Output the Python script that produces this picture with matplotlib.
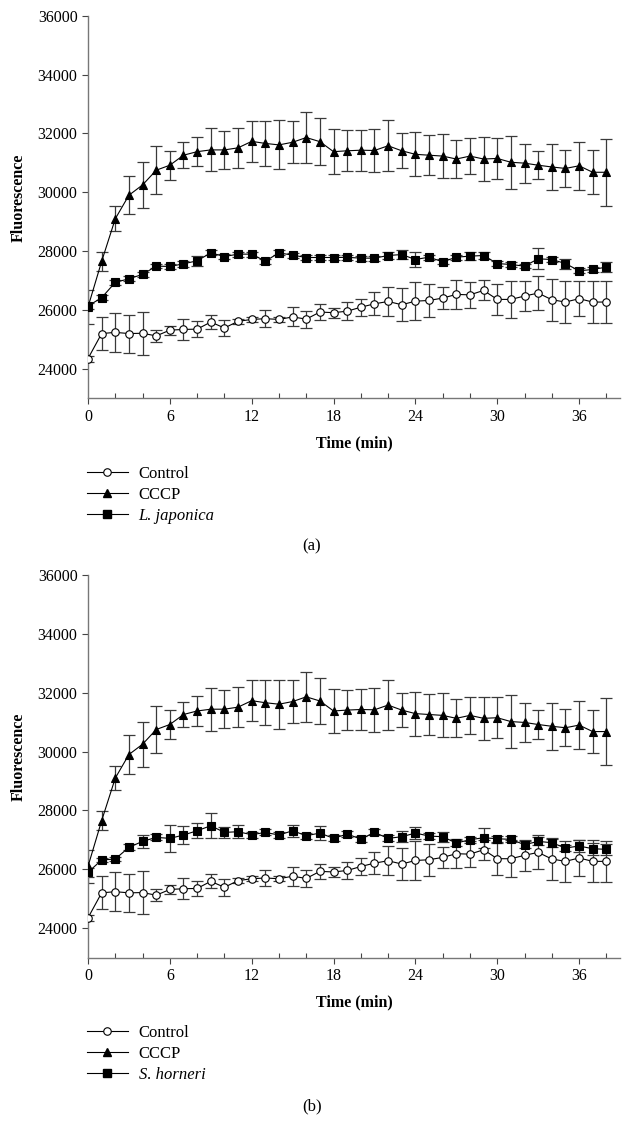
import numpy as np
import matplotlib.pyplot as plt
from matplotlib.lines import Line2D
from matplotlib.ticker import FormatStrFormatter

plt.rcParams['font.family'] = ['Liberation Serif', 'DejaVu Serif']

# time points (min)
time_min = [0, 1, 2, 3, 4, 5, 6, 7, 8, 9, 10, 11, 12, 13, 14, 15, 16, 17, 18, 19,
            20, 21, 22, 23, 24, 25, 26, 27, 28, 29, 30, 31, 32, 33, 34, 35, 36, 37, 38]

control = [24350, 25200, 25240, 25200, 25210, 25120, 25315, 25340, 25350, 25590,
           25390, 25615, 25680, 25705, 25680, 25765, 25690, 25930, 25910, 25960,
           26095, 26210, 26290, 26180, 26300, 26325, 26405, 26530, 26515, 26665,
           26360, 26360, 26475, 26575, 26350, 26270, 26385, 26270, 26270]
control_err = [100, 565, 660, 645, 735, 200, 150, 360, 260, 240,
               280, 80, 80, 285, 80, 325, 285, 265, 170, 300,
               285, 385, 500, 560, 650, 550, 360, 500, 450, 340,
               540, 620, 520, 580, 720, 700, 600, 710, 700]

cccp = [26100, 27650, 29100, 29900, 30250, 30750, 30920, 31260, 31380, 31440,
        31440, 31510, 31730, 31660, 31610, 31700, 31860, 31720, 31380, 31410,
        31430, 31420, 31580, 31410, 31290, 31260, 31230, 31130, 31230, 31130,
        31150, 31020, 30990, 30920, 30860, 30810, 30900, 30680, 30680]
cccp_err = [570, 330, 420, 650, 770, 810, 490, 440, 500, 730,
            640, 690, 700, 760, 830, 720, 860, 790, 760, 690,
            700, 740, 860, 590, 750, 680, 750, 640, 620, 740,
            700, 900, 660, 480, 790, 630, 810, 740, 1130]

japonica = [26136, 26418, 26938, 27062, 27210, 27491, 27480, 27570, 27671, 27942,
            27818, 27898, 27898, 27660, 27942, 27864, 27784, 27784, 27784, 27790,
            27762, 27762, 27852, 27885, 27716, 27796, 27637, 27796, 27830, 27852,
            27580, 27546, 27491, 27739, 27716, 27580, 27332, 27377, 27457]
japonica_err = [100, 80, 80, 80, 80, 80, 80, 100, 160, 80,
                80, 80, 80, 80, 80, 80, 80, 80, 80, 80,
                80, 80, 125, 150, 240, 80, 80, 80, 140, 125,
                80, 80, 80, 360, 100, 170, 80, 80, 170]

horneri = [25898, 26316, 26350, 26746, 26949, 27085, 27051, 27164, 27311, 27480,
           27254, 27277, 27175, 27254, 27164, 27311, 27141, 27232, 27051, 27198,
           27028, 27254, 27051, 27107, 27232, 27130, 27107, 26892, 27005, 27073,
           27039, 27017, 26836, 26949, 26904, 26723, 26791, 26700, 26678]
horneri_err = [150, 80, 80, 100, 230, 100, 460, 320, 250, 420,
               190, 225, 100, 100, 100, 200, 100, 250, 100, 100,
               100, 100, 100, 190, 190, 100, 170, 100, 100, 340,
               100, 100, 120, 140, 130, 100, 200, 200, 190]

major_x = [0, 6, 12, 18, 24, 30, 36]
minor_x = [2, 4, 8, 10, 14, 16, 20, 22, 26, 28, 32, 34, 38]
y_ticks = [24000, 26000, 28000, 30000, 32000, 34000, 36000]

W, H = 631, 1136


def draw_series(ax, vals, err, marker, face, ms):
    ax.errorbar(time_min, vals, yerr=err, fmt='none', ecolor='#3a3a3a',
                elinewidth=0.9, capsize=4.3, capthick=0.9, zorder=2)
    ax.plot(time_min, vals, color='black', lw=0.8, marker=marker, ms=ms,
            mfc=face, mec='black', mew=0.8, zorder=3)


def plot_panel(ax, extract, extract_err, extract_name, tag, top_px):
    draw_series(ax, cccp, cccp_err, '^', 'black', 6.2)
    draw_series(ax, extract, extract_err, 's', 'black', 5.2)
    draw_series(ax, control, control_err, 'o', 'white', 5.4)

    ax.set_xlim(0, 39)
    ax.set_ylim(23000, 36000)
    ax.set_xticks(major_x)
    ax.set_xticks(minor_x, minor=True)
    ax.set_yticks(y_ticks)
    ax.yaxis.set_major_formatter(FormatStrFormatter('%d'))
    for s in ['top', 'right']:
        ax.spines[s].set_visible(False)
    for s in ['left', 'bottom']:
        ax.spines[s].set_color('#777777')
        ax.spines[s].set_linewidth(1.0)
    ax.tick_params(axis='x', which='major', direction='out', length=4,
                   width=0.8, color='#444444', labelsize=11.5, pad=3.5)
    ax.tick_params(axis='x', which='minor', direction='in', length=3.5,
                   width=0.8, color='#444444')
    ax.tick_params(axis='y', which='major', direction='out', length=4.5,
                   width=0.8, color='#444444', labelsize=11.5, pad=3)

    ax.set_xlabel('Time (min)', fontsize=11.5, fontweight='bold', va='center')
    ax.xaxis.set_label_coords(0.5, -0.117)
    ax.set_ylabel('Fluorescence', fontsize=11.5, fontweight='bold', va='center')
    ax.yaxis.set_label_coords(-0.131, 0.525)

    handles = [
        Line2D([], [], color='black', lw=0.8, marker='o', ms=5.4, mfc='white', mec='black', mew=0.8),
        Line2D([], [], color='black', lw=0.8, marker='^', ms=6.2, mfc='black', mec='black'),
        Line2D([], [], color='black', lw=0.8, marker='s', ms=5.2, mfc='black', mec='black'),
    ]
    labels = ['Control', 'CCCP', extract_name]
    leg = ax.legend(handles, labels, loc='upper left',
                    bbox_to_anchor=(87 / W, 1 - (top_px + 450) / H),
                    bbox_transform=fig.transFigure, frameon=False,
                    fontsize=12, handlelength=2.45, handletextpad=0.65,
                    labelspacing=0.3, borderpad=0, borderaxespad=0)
    leg.get_texts()[2].set_fontstyle('italic')

    fig.text(312 / W, 1 - (top_px + 531) / H, tag, ha='center', va='center', fontsize=12)


fig = plt.figure(figsize=(W / 100, H / 100), dpi=100)
ax_top = fig.add_axes([88 / W, 1 - 398.3 / H, 532 / W, 382.6 / H])
ax_bot = fig.add_axes([88 / W, 1 - 957.6 / H, 532 / W, 382.6 / H])

plot_panel(ax_top, japonica, japonica_err, 'L. japonica', '(a)', 15.7)
plot_panel(ax_bot, horneri, horneri_err, 'S. horneri', '(b)', 575.0)

fig.savefig('out.png', dpi=100)
